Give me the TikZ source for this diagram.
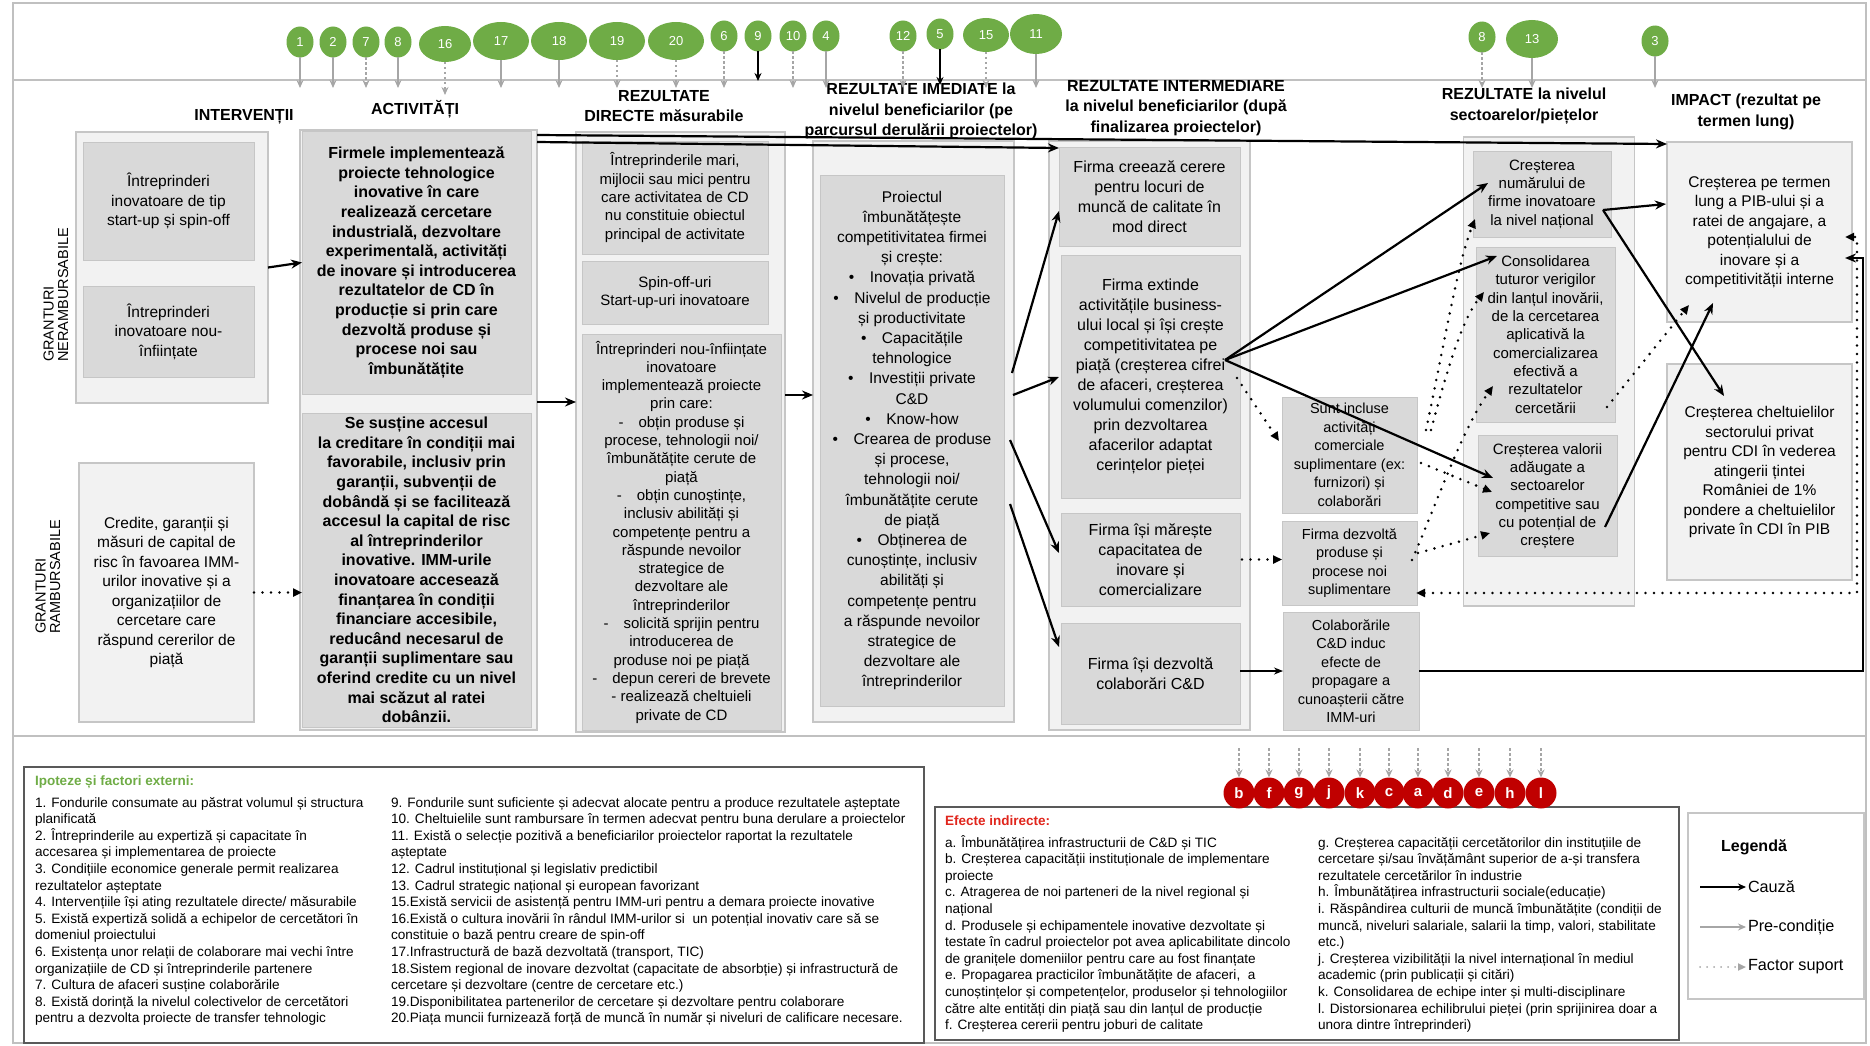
\documentclass[tikz,border=0pt]{standalone}
\usepackage{fontspec}
\setmainfont{Liberation Sans}
\usetikzlibrary{arrows.meta,shapes.geometric}
\definecolor{boxlight}{HTML}{F2F2F2}
\definecolor{boxdark}{HTML}{D9D9D9}
\definecolor{boxline}{HTML}{C6C6C6}
\definecolor{frm}{HTML}{C0C0C0}
\definecolor{grn}{HTML}{6FAC46}
\definecolor{redc}{HTML}{C00000}
\definecolor{redt}{HTML}{E0251C}
\definecolor{gryarr}{HTML}{A6A6A6}
\definecolor{darkln}{HTML}{595959}
\newcommand{\myrf}{\fontsize{15.5}{19.5}\selectfont}
\newcommand{\myimf}{\fontsize{15.5}{20.2}\selectfont}
\newcommand{\myinf}{\fontsize{16}{20}\selectfont}
\newcommand{\mydf}{\fontsize{15}{18.3}\selectfont}
\newcommand{\mysf}{\fontsize{14.5}{18.5}\selectfont}
\newcommand{\mybf}{\fontsize{16}{19.6}\selectfont\bfseries}
\newcommand{\myhf}{\fontsize{16}{20.5}\selectfont\bfseries}
\newcommand{\mytf}{\fontsize{13.6}{16.6}\selectfont}
\newcommand{\myef}{\fontsize{13.6}{16.6}\selectfont}
\begin{document}
\begin{tikzpicture}[x=1pt,y=-1pt,
  every node/.style={inner sep=0pt, outer sep=0pt},
  lbox/.style={draw=boxline, fill=boxlight, line width=1.2pt},
  dbox/.style={fill=boxdark, draw=boxline, line width=0.6pt, align=center},
  hdr/.style={font=\myhf, align=center},
  gcirc/.style={ellipse, fill=grn, text=white, font=\fontsize{13}{13}\selectfont},
  rcirc/.style={circle, fill=redc, text=white, minimum size=31pt, font=\fontsize{15}{15}\selectfont\bfseries},
  pre/.style={draw=gryarr, line width=1.5pt, -{Stealth[length=8pt,width=7pt]}},
  predot/.style={pre, dash pattern=on 2.5pt off 2.5pt},
  blk/.style={draw=black, line width=1.5pt, -{Stealth[length=8pt,width=7pt]}},
  cause/.style={draw=black, line width=2.2pt, -{Stealth[length=11pt,width=9pt]}},
  thincause/.style={draw=black, line width=1.3pt, -{Stealth[length=9pt,width=7pt]}},
  sup/.style={draw=black, line width=2.8pt, dash pattern=on 0pt off 8.5pt, line cap=round, -{Triangle[length=9pt,width=8pt]}},
  supboth/.style={draw=black, line width=2.8pt, dash pattern=on 0pt off 8.5pt, line cap=round, {Triangle[length=9pt,width=8pt]}-{Triangle[length=9pt,width=8pt]}},
  legsup/.style={draw=gryarr, line width=2pt, dash pattern=on 0pt off 7pt, line cap=round, -{Triangle[length=8pt,width=7pt]}},
  frame/.style={draw=frm, line width=1.6pt},
  txtcol/.style={align=left, anchor=north west}
]
\useasboundingbox (0,0) rectangle (1870,1046);

% ---------- frame ----------
\draw[frame] (13,3) rectangle (1866,1043);
\draw[frame] (13,80) -- (1866,80);
\draw[frame] (13,736) -- (1866,736);

% ---------- headers ----------
\node[hdr] (hInt) at (244,117) {INTERVENȚII};
\node[hdr] (hAct) at (415,109) {ACTIVITĂȚI};
\node[hdr] (hDir) at (664,106) {REZULTATE\\DIRECTE măsurabile};
\node[hdr] (hIm) at (921,111) {REZULTATE IMEDIATE la\\nivelul beneficiarilor (pe\\parcursul derulării proiectelor)};
\node[hdr] (hIn) at (1176,108) {REZULTATE INTERMEDIARE\\la nivelul beneficiarilor (după\\finalizarea proiectelor)};
\node[hdr] (hSec) at (1524,106) {REZULTATE la nivelul\\sectoarelor/piețelor};
\node[hdr] (hImp) at (1746,112) {IMPACT (rezultat pe\\termen lung)};

% ---------- rotated labels ----------
\node[font=\fontsize{14.5}{14.5}\selectfont, align=left, rotate=90] (gN) at (56,295) {GRANTURI\\NERAMBURSABILE};
\node[font=\fontsize{14.5}{14.5}\selectfont, align=left, rotate=90] (gR) at (48,577) {GRANTURI\\RAMBURSABILE};

% ---------- interventions ----------
\node[lbox, minimum width=192pt, minimum height=271pt] (ivN) at (172,267.5) {};
\node[dbox, font=\myrf, minimum width=171pt, minimum height=118pt] (iv1) at (168.5,201) {Întreprinderi\\inovatoare de tip\\start-up și spin-off};
\node[dbox, font=\myrf, minimum width=171pt, minimum height=91pt] (iv2) at (168.5,331.5) {Întreprinderi\\inovatoare nou-\\înființate};
\node[lbox, font=\myrf, align=center, minimum width=175pt, minimum height=259pt] (iv3) at (166.5,592.5) {Credite, garanții și\\măsuri de capital de\\risc în favoarea IMM-\\urilor inovative și a\\organizațiilor de\\cercetare care\\răspund cererilor de\\piață};

% ---------- activities ----------
\node[lbox, minimum width=237pt, minimum height=600pt] (actOuter) at (418.5,430) {};
\node[dbox, font=\mybf, minimum width=229pt, minimum height=263pt] (act1) at (416.5,262.5) {Firmele implementează\\proiecte tehnologice\\inovative în care\\realizează cercetare\\industrială, dezvoltare\\experimentală, activități\\de inovare și introducerea\\rezultatelor de CD în\\producție si prin care\\dezvoltă produse și\\procese noi sau\\îmbunătățite};
\node[dbox, font=\mybf, minimum width=229pt, minimum height=314pt] (act2) at (416.5,570) {Se susține accesul\\la creditare în condiții mai\\favorabile, inclusiv prin\\garanții, subvenții de\\dobândă și se facilitează\\accesul la capital de risc\\al întreprinderilor\\inovative. IMM-urile\\inovatoare accesează\\finanțarea în condiții\\financiare accesibile,\\reducând necesarul de\\garanții suplimentare sau\\oferind credite cu un nivel\\mai scăzut al ratei\\dobânzii.};

% ---------- direct results ----------
\node[lbox, minimum width=209pt, minimum height=600pt] (dirOuter) at (680.5,432) {};
\node[dbox, font=\mydf, minimum width=186pt, minimum height=113pt] (dir1) at (675,197.5) {Întreprinderile mari,\\mijlocii sau mici pentru\\care activitatea de CD\\nu constituie obiectul\\principal de activitate};
\node[dbox, font=\mydf, minimum width=186pt, minimum height=63pt] (dir2) at (675,292.5) {Spin-off-uri\\Start-up-uri inovatoare};
\node[dbox, font=\mydf, minimum width=199pt, minimum height=396pt] (dir3) at (681.5,532) {Întreprinderi nou-înființate\\inovatoare\\implementează proiecte\\prin care:\\-\quad obțin produse și\\procese, tehnologii noi/\\îmbunătățite cerute de\\piață\\-\quad obțin cunoștințe,\\inclusiv abilități și\\competențe pentru a\\răspunde nevoilor\\strategice de\\dezvoltare ale\\întreprinderilor\\-\quad solicită sprijin pentru\\introducerea de\\produse noi pe piață\\-\quad depun cereri de brevete\\- realizează cheltuieli\\private de CD};

% ---------- immediate results ----------
\node[lbox, minimum width=201pt, minimum height=581pt] (imOuter) at (913.5,431.5) {};
\node[dbox, font=\myimf, minimum width=184pt, minimum height=531pt] (im1) at (912,440.5) {Proiectul\\îmbunătățește\\competitivitatea firmei\\și crește:\\•\quad Inovația privată\\•\quad Nivelul de producție\\și productivitate\\•\quad Capacitățile\\tehnologice\\•\quad Investiții private\\C\&D\\•\quad Know-how\\•\quad Crearea de produse\\și procese,\\tehnologii noi/\\îmbunătățite cerute\\de piață\\•\quad Obținerea de\\cunoștințe, inclusiv\\abilități și\\competențe pentru\\a răspunde nevoilor\\strategice de\\dezvoltare ale\\întreprinderilor};

% ---------- intermediate results ----------
\node[lbox, minimum width=201pt, minimum height=589pt] (intOuter) at (1149.5,435.5) {};
\node[dbox, font=\myinf, minimum width=181pt, minimum height=99pt] (in1) at (1149.5,196.5) {Firma creează cerere\\pentru locuri de\\muncă de calitate în\\mod direct};
\node[dbox, font=\myinf, minimum width=179pt, minimum height=243pt] (in2) at (1150.5,376.5) {Firma extinde\\activitățile business-\\ului local și își crește\\competitivitatea pe\\piață (creșterea cifrei\\de afaceri, creșterea\\volumului comenzilor)\\prin dezvoltarea\\afacerilor adaptat\\cerințelor pieței};
\node[dbox, font=\myinf, minimum width=179pt, minimum height=93pt] (in3) at (1150.5,559.5) {Firma își mărește\\capacitatea de\\inovare și\\comercializare};
\node[dbox, font=\myinf, minimum width=179pt, minimum height=101pt] (in4) at (1150.5,673.5) {Firma își dezvoltă\\colaborări C\&D};

\node[dbox, font=\mysf, minimum width=135pt, minimum height=116pt] (s1) at (1349.5,455) {Sunt incluse\\activități\\comerciale\\suplimentare (ex:\\furnizori) și\\colaborări};
\node[dbox, font=\mysf, minimum width=135pt, minimum height=84pt] (s2) at (1349.5,563) {Firma dezvoltă\\produse și\\procese noi\\suplimentare};
\node[dbox, font=\mysf, minimum width=136pt, minimum height=118pt] (s3) at (1351,671) {Colaborările\\C\&D induc\\efecte de\\propagare a\\cunoașterii către\\IMM-uri};

% ---------- sector results ----------
\node[lbox, minimum width=171pt, minimum height=469pt] (secOuter) at (1549,371.5) {};
\node[dbox, font=\mydf, minimum width=138pt, minimum height=86pt] (t1) at (1542,194) {Creșterea\\numărului de\\firme inovatoare\\la nivel național};
\node[dbox, font=\mydf, minimum width=139pt, minimum height=175pt] (t2) at (1545.5,334.5) {Consolidarea\\tuturor verigilor\\din lanțul inovării,\\de la cercetarea\\aplicativă la\\comercializarea\\efectivă a\\rezultatelor\\cercetării};
\node[dbox, font=\mydf, minimum width=139pt, minimum height=121pt] (t3) at (1547.5,496) {Creșterea valorii\\adăugate a\\sectoarelor\\competitive sau\\cu potențial de\\creștere};

% ---------- impact ----------
\node[lbox, font=\myrf, align=center, minimum width=185pt, minimum height=180pt] (P1) at (1759.5,232) {Creșterea pe termen\\lung a PIB-ului și a\\ratei de angajare, a\\potențialului de\\inovare și a\\competitivității interne};
\node[lbox, font=\myrf, align=center, minimum width=185pt, minimum height=216pt] (P2) at (1759.5,472) {Creșterea cheltuielilor\\sectorului privat\\pentru CDI în vederea\\atingerii țintei\\României de 1\%\\pondere a cheltuielilor\\private în CDI în PIB};

% ---------- connector coordinates ----------
\coordinate (yA) at (0,402);
\coordinate (yB) at (0,395);
\coordinate (imo1) at (1012,373);
\coordinate (imo2) at (1013,395);
\coordinate (imo3) at (1010,440);
\coordinate (imo4) at (1010,504);
\coordinate (ine1) at (1059,211);
\coordinate (ine2) at (1059,377);
\coordinate (ine3) at (1059,553);
\coordinate (ine4) at (1059,647);
\coordinate (fan) at (1225,360);
\coordinate (t1in) at (1488,183);
\coordinate (t2in) at (1497,256);
\coordinate (t3in) at (1493,478);
\coordinate (t1out) at (1603,210);
\coordinate (p1inA) at (1666,204);
\coordinate (p2in) at (1724,396);
\coordinate (t3out) at (1605,527);
\coordinate (p1inB) at (1713,303);
\coordinate (loopC) at (1863,258);
\coordinate (p1inC) at (1845,258);
\coordinate (s2ret) at (1416,593);
\coordinate (loopD) at (1857,237);
\coordinate (p1inD) at (1845,237);
\coordinate (in2d) at (1237,378);
\coordinate (s1in) at (1279,441);
\coordinate (s1a) at (1426,430);
\coordinate (t1a) at (1475,219);
\coordinate (s1b) at (1431,430);
\coordinate (t2a) at (1484,292);
\coordinate (s2a) at (1412,560);
\coordinate (t2b) at (1493,386);
\coordinate (s1c) at (1421,463);
\coordinate (t3a) at (1492,492);
\coordinate (s2b) at (1418,553);
\coordinate (t3b) at (1490,533);
\coordinate (t2c) at (1607,407);
\coordinate (p1b) at (1689,305);

% ---------- cause arrows ----------
\draw[cause] ([yshift=-5pt]actOuter.north east) -- ([yshift=-2pt]P1.north west);
\draw[cause] ([yshift=-12pt]actOuter.north east) -- ([yshift=-1pt]in1.north west);
\draw[cause] (ivN.east) -- (act1.west);
\draw[sup] (iv3.east) -- (act2.west |- iv3.east);
\draw[cause] (actOuter.east |- yA) -- (dirOuter.west |- yA);
\draw[cause] (dirOuter.east |- yB) -- (imOuter.west |- yB);
\draw[cause] (imo1) -- (ine1);
\draw[cause] (imo2) -- (ine2);
\draw[cause] (imo3) -- (ine3);
\draw[cause] (imo4) -- (ine4);
\draw[cause] (fan) -- (t1in);
\draw[cause] (fan) -- (t2in);
\draw[cause] (fan) -- (t3in);
\draw[cause] (t1out) -- (p1inA);
\draw[cause] (t1out) -- (p2in);
\draw[cause] (t3out) -- (p1inB);
\draw[thincause] (in4.east |- s3.west) -- (s3.west);
\draw[cause] (s3.east) -| (loopC) -- (p1inC);

% ---------- support arrows ----------
\draw[sup] (in2d) -- (s1in);
\draw[sup] ([xshift=2pt]in3.east) -- (s2.west |- in3.east);
\draw[sup] (s1a) .. controls (1445,340) and (1458,262) .. (t1a);
\draw[sup] (s1b) .. controls (1447,370) and (1462,320) .. (t2a);
\draw[sup] (s2a) .. controls (1440,495) and (1462,430) .. (t2b);
\draw[sup] (s1c) -- (t3a);
\draw[sup] (s2b) -- (t3b);
\draw[sup] (t2c) -- (p1b);
\draw[supboth] (s2ret) -| (loopD) -- (p1inD);

% ---------- green assumption circles ----------
\foreach \nm/\lab/\cx/\cy/\w/\h/\st/\ey in {
 g1/1/300/42/27/31/pre/88,
 g2/2/333/42/27/31/pre/88,
 g7/7/366/42/27/31/predot/88,
 g8/8/398/42/27/31/pre/88,
 g16/16/445/44/52/36/predot/95,
 g17/17/501/41/56/38/pre/88,
 g18/18/559/41/56/38/pre/88,
 g19/19/617/41/56/38/predot/88,
 g20/20/676/41/56/38/predot/88,
 g6/6/724/36/27/31/predot/88,
 g9/9/758/36/27/31/blk/81,
 g10/10/793/36/27/31/predot/88,
 g4/4/826/36/27/31/pre/88,
 g12/12/903/36/27/31/predot/88,
 g5/5/940/34/27/31/blk/85,
 g15/15/986/35/46/34/predot/88,
 g11/11/1036/34/52/40/pre/88,
 g8b/8/1482/37/27/31/predot/88,
 g13/13/1532/39/52/38/pre/88,
 g3/3/1655/41/27/31/pre/88}
{
 \node[gcirc, minimum width=\w pt, minimum height=\h pt] (\nm) at (\cx,\cy) {\lab};
 \coordinate (\nm-e) at (\cx,\ey);
 \draw[\st] (\nm) -- (\nm-e);
}

% ---------- assumptions box ----------
\node[draw=darkln, line width=1.5pt, minimum width=900pt, minimum height=276pt] (ipo) at (474,905) {};
\node[anchor=west, font=\fontsize{13.5}{13.5}\selectfont\bfseries, text=grn] (ipoT) at (35,782) {Ipoteze și factori externi:};
\node[txtcol, font=\mytf] (ipoL) at (35,795) {\rule{0pt}{12pt}1. Fondurile consumate au păstrat volumul și structura\\
planificată\\
2. Întreprinderile au expertiză și capacitate în\\
accesarea și implementarea de proiecte\\
3. Condițiile economice generale permit realizarea\\
rezultatelor așteptate\\
4. Intervențiile își ating rezultatele directe/ măsurabile\\
5. Există expertiză solidă a echipelor de cercetători în\\
domeniul proiectului\\
6. Existența unor relații de colaborare mai vechi între\\
organizațiile de CD și întreprinderile partenere\\
7. Cultura de afaceri susține colaborările\\
8. Există dorință la nivelul colectivelor de cercetători\\
pentru a dezvolta proiecte de transfer tehnologic};
\node[txtcol, font=\mytf] (ipoR) at (391,795) {\rule{0pt}{12pt}9. Fondurile sunt suficiente și adecvat alocate pentru a produce rezultatele așteptate\\
10. Cheltuielile sunt rambursare în termen adecvat pentru buna derulare a proiectelor\\
11. Există o selecție pozitivă a beneficiarilor proiectelor raportat la rezultatele\\
așteptate\\
12. Cadrul instituțional și legislativ predictibil\\
13. Cadrul strategic național și european favorizant\\
15.Există servicii de asistență pentru IMM-uri pentru a demara proiecte inovative\\
16.Există o cultura inovării în rândul IMM-urilor si \ un potențial inovativ care să se\\
constituie o bază pentru creare de spin-off\\
17.Infrastructură de bază dezvoltată (transport, TIC)\\
18.Sistem regional de inovare dezvoltat (capacitate de absorbție) și infrastructură de\\
cercetare și dezvoltare (centre de cercetare etc.)\\
19.Disponibilitatea partenerilor de cercetare și dezvoltare pentru colaborare\\
20.Piața muncii furnizează forță de muncă în număr și niveluri de calificare necesare.};

% ---------- indirect effects box ----------
\node[draw=darkln, line width=1.5pt, minimum width=744pt, minimum height=233pt] (eff) at (1307,923.5) {};
\node[anchor=west, font=\fontsize{13.5}{13.5}\selectfont\bfseries, text=redt] (effT) at (945,821) {Efecte indirecte:};
\node[txtcol, font=\myef] (effL) at (945,835) {\rule{0pt}{12pt}a. Îmbunătățirea infrastructurii de C\&D și TIC\\
b. Creșterea capacității instituționale de implementare\\
proiecte\\
c. Atragerea de noi parteneri de la nivel regional și\\
național\\
d. Produsele și echipamentele inovative dezvoltate și\\
testate în cadrul proiectelor pot avea aplicabilitate dincolo\\
de granițele domeniilor pentru care au fost finanțate\\
e. Propagarea practicilor îmbunătățite de afaceri, \ a\\
cunoștințelor și competențelor, produselor și tehnologiilor\\
către alte entități din piață sau din lanțul de producție\\
f. Creșterea cererii pentru joburi de calitate};
\node[txtcol, font=\myef] (effR) at (1318,835) {\rule{0pt}{12pt}g. Creșterea capacității cercetătorilor din instituțiile de\\
cercetare și/sau învățământ superior de a-și transfera\\
rezultatele cercetărilor în industrie\\
h. Îmbunătățirea infrastructurii sociale(educație)\\
i. Răspândirea culturii de muncă îmbunătățite (condiții de\\
muncă, niveluri salariale, salarii la timp, valori, stabilitate\\
etc.)\\
j. Creșterea vizibilității la nivel internațional în mediul\\
academic (prin publicații și citări)\\
k. Consolidarea de echipe inter și multi-disciplinare\\
l. Distorsionarea echilibrului pieței (prin sprijinirea doar a\\
unora dintre întreprinderi)};

% ---------- red effect circles ----------
\foreach \lt/\x in {b/1239, f/1269, g/1299, j/1329, k/1360, c/1389, a/1418, d/1448, e/1479, h/1510, l/1541}
{
 \node[rcirc] (r\lt) at (\x,793) {\lt};
 \coordinate (r\lt-s) at (\x,748);
 \draw[predot] (r\lt-s) -- (r\lt);
}

% ---------- legend ----------
\node[draw=boxline, line width=1.2pt, minimum width=176pt, minimum height=186pt] (leg) at (1776,906) {};
\node[font=\fontsize{16}{16}\selectfont\bfseries] (legT) at (1754,847) {Legendă};
\coordinate (lg1a) at (1700,887); \coordinate (lg1b) at (1746,887);
\coordinate (lg2a) at (1700,927); \coordinate (lg2b) at (1746,927);
\coordinate (lg3a) at (1700,967); \coordinate (lg3b) at (1746,967);
\draw[blk, line width=2.2pt] (lg1a) -- (lg1b);
\draw[pre, line width=2.2pt] (lg2a) -- (lg2b);
\draw[legsup] (lg3a) -- (lg3b);
\node[anchor=west, font=\fontsize{16.2}{16.2}\selectfont] (lgt1) at (1748,887) {Cauză};
\node[anchor=west, font=\fontsize{16.2}{16.2}\selectfont] (lgt2) at (1748,927) {Pre-condiție};
\node[anchor=west, font=\fontsize{16.2}{16.2}\selectfont] (lgt3) at (1748,967) {Factor suport};
\end{tikzpicture}
\end{document}
